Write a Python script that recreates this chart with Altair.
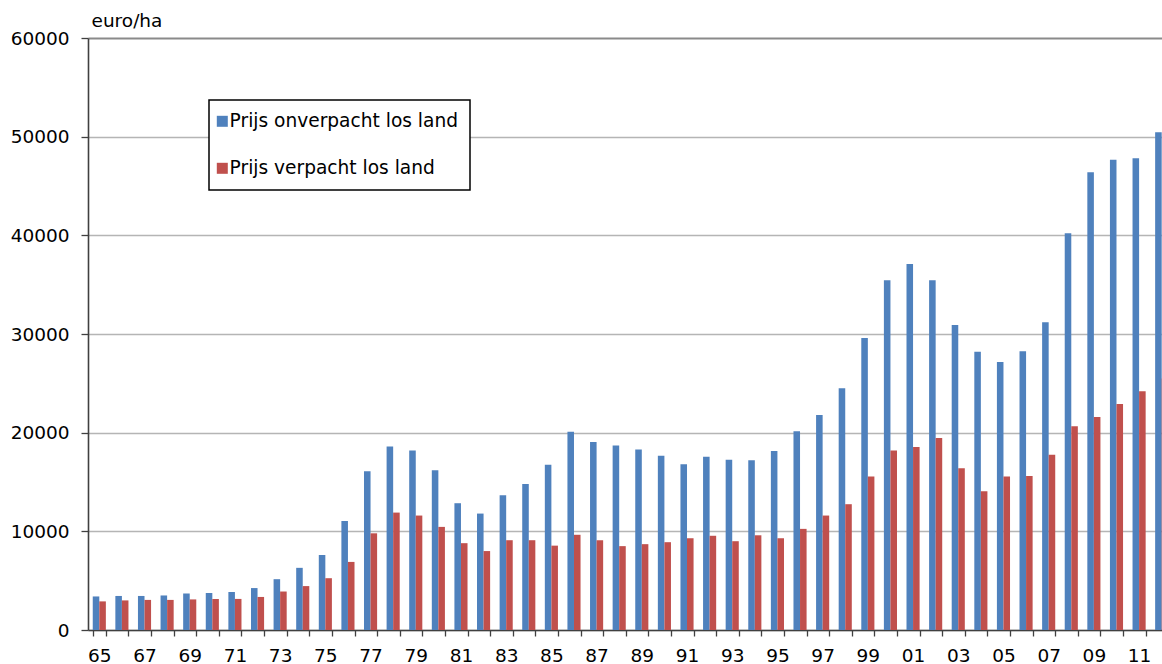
import altair as alt
import pandas as pd

years = list(range(1965, 2013))
series_names = ["Prijs onverpacht los land", "Prijs verpacht los land"]
onverpacht = [3400, 3450, 3450, 3500, 3700, 3750, 3850, 4250, 5150, 6300,
              7600, 11050, 16100, 18600, 18200, 16200, 12850, 11800, 13650, 14800,
              16750, 20100, 19050, 18700, 18300, 17650, 16800, 17550, 17250, 17200,
              18150, 20150, 21800, 24500, 29600, 35450, 37100, 35450, 30900, 28200,
              27150, 28250, 31200, 40200, 46400, 47650, 47800, 50450]
verpacht = [2900, 3000, 3050, 3050, 3100, 3150, 3150, 3350, 3900, 4450,
            5250, 6900, 9800, 11900, 11600, 10450, 8800, 8000, 9100, 9100,
            8550, 9650, 9100, 8500, 8700, 8900, 9300, 9550, 9000, 9600,
            9300, 10250, 11600, 12750, 15550, 18200, 18550, 19450, 16400, 14050,
            15550, 15600, 17750, 20650, 21600, 22900, 24200, 25500]
y_ticks = [0, 10000, 20000, 30000, 40000, 50000, 60000]
colors = ["#4F81BD", "#C0504D"]

rows = []
for i, yr in enumerate(years):
    rows.append({"year": yr, "series": series_names[0], "value": onverpacht[i]})
    rows.append({"year": yr, "series": series_names[1], "value": verpacht[i]})
df = pd.DataFrame(rows)

FONT = "DejaVu Sans"

chart = alt.Chart(df).mark_bar(clip=True).encode(
    x=alt.X("year:O",
            scale=alt.Scale(domain=years, range=[0, 1085], paddingInner=0.42, paddingOuter=0.21),
            axis=alt.Axis(title=None, labelAngle=0, labelOverlap=False,
                          labelExpr="datum.value % 2 == 1 ? substring(toString(datum.value), 2, 4) : ''",
                          tickBand="extent", grid=False, domainColor="#404040", domainWidth=1.5,
                          tickColor="#404040", tickSize=6, tickWidth=1.3,
                          labelFontSize=18.5, labelFont=FONT, labelColor="black", labelPadding=10)),
    xOffset=alt.XOffset("series:N", scale=alt.Scale(domain=series_names, paddingInner=0, paddingOuter=0)),
    y=alt.Y("value:Q",
            scale=alt.Scale(domain=[0, 60000], nice=False),
            axis=alt.Axis(values=y_ticks, format="d", title="euro/ha", titleAngle=0,
                          titleAlign="left", titleBaseline="middle", titleX=3, titleY=-18,
                          titleFontWeight="normal", titleFontSize=18.5, titleFont=FONT, titleColor="black",
                          tickSize=7, tickColor="#404040", tickWidth=1.3,
                          labelPadding=12, labelFontSize=18.5, labelFont=FONT, labelColor="black",
                          gridColor={"condition": {"test": "datum.value === 60000", "value": "#8a8a8a"}, "value": "#b5b5b5"},
                          gridWidth={"condition": {"test": "datum.value === 60000", "value": 2.2}, "value": 1.3},
                          domainColor="#404040", domainWidth=1.6)),
    color=alt.Color("series:N",
                    scale=alt.Scale(domain=series_names, range=colors),
                    legend=alt.Legend(title=None, orient="none", legendX=121, legendY=62,
                                      symbolType="square", symbolSize=121, symbolStrokeWidth=0,
                                      symbolOffset=-8,
                                      labelFontSize=18.6, labelFont=FONT, labelColor="black",
                                      labelLimit=400,
                                      labelOffset={"expr": "-2"}, padding=12, rowPadding=28,
                                      strokeColor="black", fillColor="white")),
).properties(
    width=1074, height=592,
    padding={"left": 88, "top": 38, "right": 0, "bottom": 34},
    autosize=alt.AutoSizeParams(type="none"),
    background="white",
).configure_view(stroke=None).configure_legend(strokeWidth=1.5)

chart.save("out.html", embed_options={"renderer": "svg", "actions": False})
